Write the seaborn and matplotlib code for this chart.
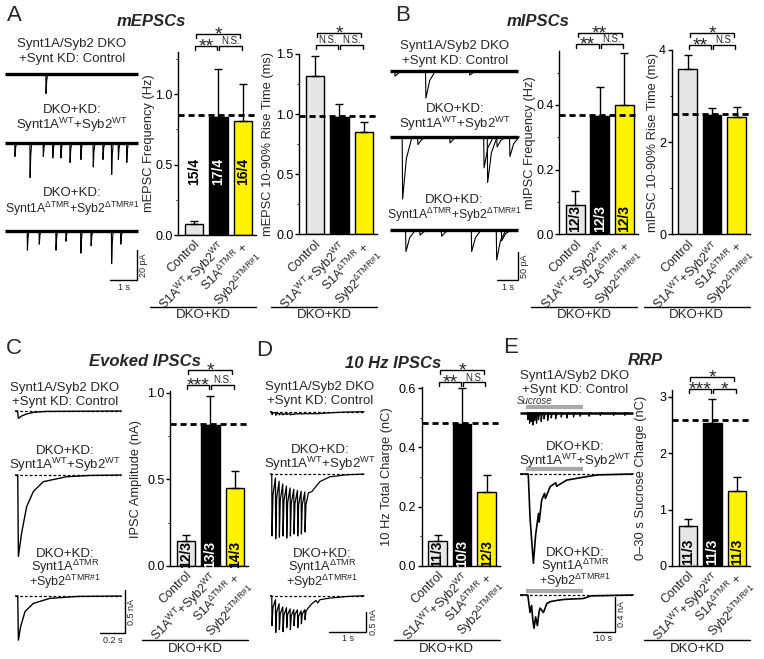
import numpy as np
import pandas as pd
import matplotlib
matplotlib.use("Agg")
import matplotlib.pyplot as plt
from matplotlib.lines import Line2D
import seaborn as sns

# ======================= DATA =======================
groups = ["Control", "WT", "dTMR"]
group_colors = ["#E6E6E6", "#000000", "#FFF200"]
n_colors = ["black", "white", "black"]
xtick_labels = ["Control",
                r"S1A$^{\mathrm{WT}}$+Syb2$^{\mathrm{WT}}$",
                "S1A$^{\\mathrm{ΔTMR}}$ +\nSyb2$^{\\mathrm{ΔTMR\\#1}}$"]

# A: mEPSCs
mepsc_freq = [0.08, 0.84, 0.81]
mepsc_freq_sem = [0.02, 0.34, 0.265]
mepsc_freq_ref = 0.85
mepsc_freq_n = ["15/4", "17/4", "16/4"]
mepsc_freq_sig = ["**", "N.S.", "*"]
mepsc_rise = [1.315, 0.975, 0.853]
mepsc_rise_sem = [0.165, 0.11, 0.083]
mepsc_rise_ref = 0.985
mepsc_rise_sig = ["N.S.", "N.S.", "*"]
# B: mIPSCs
mipsc_freq = [0.092, 0.365, 0.40]
mipsc_freq_sem = [0.043, 0.09, 0.16]
mipsc_freq_ref = 0.37
mipsc_freq_n = ["12/3", "12/3", "12/3"]
mipsc_freq_sig = ["**", "N.S.", "**"]
mipsc_rise = [3.59, 2.58, 2.54]
mipsc_rise_sem = [0.31, 0.16, 0.22]
mipsc_rise_ref = 2.61
mipsc_rise_sig = ["**", "N.S.", "*"]
# C: evoked IPSCs
ipsc_amp = [0.145, 0.815, 0.452]
ipsc_amp_sem = [0.035, 0.167, 0.096]
ipsc_amp_ref = 0.82
ipsc_amp_n = ["12/3", "13/3", "14/3"]
ipsc_amp_sig = ["***", "N.S.", "*"]
# D: 10 Hz IPSCs
train_charge = [0.083, 0.478, 0.248]
train_charge_sem = [0.021, 0.124, 0.06]
train_charge_ref = 0.482
train_charge_n = ["11/3", "10/3", "12/3"]
train_charge_sig = ["**", "N.S.", "*"]
# E: RRP
sucrose_charge = [0.715, 2.54, 1.335]
sucrose_charge_sem = [0.115, 0.42, 0.245]
sucrose_charge_ref = 2.59
sucrose_charge_n = ["11/3", "11/3", "11/3"]
sucrose_charge_sig = ["***", "*", "*"]

# ---- traces (time s, current; events = time / amplitude) ----
A_ctrl_t = [1.52]
A_ctrl_amp = [13]
A_wt_t = [0.37, 0.93, 1.42, 1.77, 2.07, 2.41, 2.81, 3.27, 3.63, 3.95, 4.2, 4.51]
A_wt_amp = [9, 23, 9, 10, 10, 13, 11, 16, 11, 21, 11, 13]
A_tmr_t = [0.83, 1.27, 1.89, 2.26, 2.81, 3.19, 3.95, 4.29]
A_tmr_amp = [13, 9, 13, 7, 15, 10, 22, 9]
A_dur = 4.93

B_ctrl_t = [0.24, 1.71, 3.8]
B_ctrl_amp = [9, 48, 7]
B_wt_t = [0.6, 1.33, 2.86, 4.48, 4.65, 5.1, 5.71]
B_wt_amp = [110, 14, 11, 55, 81, 18, 35]
B_tmr_t = [0.76, 1.43, 2.46, 3.89, 5.08, 5.32]
B_tmr_amp = [38, 9, 11, 38, 53, 19]
B_dur = 6.1

C_ctrl_t = [0, 0.02, 0.027, 0.05, 0.09, 0.15, 0.25, 0.85]
C_ctrl_i = [0, 0, -0.085, -0.06, -0.035, -0.015, -0.005, 0]
C_wt_t = [0, 0.022, 0.027, 0.053, 0.093, 0.147, 0.227, 0.413, 0.6, 0.85]
C_wt_i = [0, 0, -0.94, -0.67, -0.366, -0.19, -0.077, -0.02, -0.005, 0]
C_tmr_t = [0, 0.022, 0.027, 0.045, 0.08, 0.147, 0.28, 0.5, 0.85]
C_tmr_i = [0, 0, -0.51, -0.354, -0.18, -0.085, -0.027, -0.005, 0]

D_pulse_t = [0.05, 0.15, 0.25, 0.35, 0.45, 0.55, 0.65, 0.75, 0.85, 0.95]
D_ctrl_peak = [0.07, 0.09, 0.08, 0.08, 0.07, 0.08, 0.07, 0.06, 0.06, 0.05]
D_ctrl_trough = [0.02, 0.04, 0.05, 0.05, 0.05, 0.06, 0.05, 0.05, 0.05, 0.05]
D_ctrl_tail_t = [1.3, 1.6, 2.0, 2.56]
D_ctrl_tail_i = [0.05, 0.03, 0.01, 0.0]
D_wt_peak = [1.55, 1.62, 1.58, 1.55, 1.6, 1.55, 1.5, 1.55, 1.5, 1.45]
D_wt_trough = [0.1, 0.18, 0.25, 0.3, 0.35, 0.38, 0.41, 0.43, 0.45, 0.47]
D_wt_tail_t = [1.14, 1.36, 1.63, 2.09, 2.56]
D_wt_tail_i = [0.44, 0.19, 0.07, 0.02, 0.0]
D_tmr_peak = [0.75, 0.92, 0.85, 0.9, 0.8, 0.85, 0.75, 0.8, 0.7, 0.6]
D_tmr_trough = [0.1, 0.2, 0.28, 0.3, 0.33, 0.35, 0.35, 0.38, 0.35, 0.3]
D_tmr_tail_t = [1.14, 1.25, 1.3, 1.36, 1.63, 2.09, 2.56]
D_tmr_tail_i = [0.2, 0.12, 0.18, 0.1, 0.06, 0.02, 0.0]

E_sucrose = [2.7, 28.1]
E_dur = 50.7
E_ctrl_t = [3.5, 4.3, 5.0, 5.8, 6.6, 7.4, 8.3, 9.5, 10.8, 12.4, 14.0, 16.0, 18.5,
            21, 24, 27, 31, 36, 42, 47]
E_ctrl_amp = [0.08, 0.12, 0.1, 0.14, 0.09, 0.12, 0.08, 0.1, 0.07, 0.09, 0.06, 0.07,
              0.05, 0.06, 0.05, 0.04, 0.04, 0.03, 0.03, 0.03]
E_wt_t = [0, 3.7, 4.5, 6.0, 7.0, 7.5, 8.3, 8.6, 9.7, 11.0, 11.4, 13.5, 16, 16.4, 20.9,
          29.9, 35, 50.7]
E_wt_i = [0, 0, -0.5, -1.02, -0.7, -0.6, -0.45, -0.55, -0.3, -0.22, -0.28, -0.145,
          -0.1, -0.14, -0.07, -0.03, -0.01, 0]
E_tmr_t = [0, 3.5, 4.5, 5.2, 5.8, 6.3, 7.0, 7.8, 8.5, 9.0, 10.5, 12, 13.5, 17, 20,
           28.4, 32, 50.7]
E_tmr_i = [0, 0, -0.2, -0.12, -0.3, -0.38, -0.25, -0.35, -0.2, -0.15, -0.2, -0.1,
           -0.076, -0.06, -0.05, -0.04, -0.01, 0]

lab_ctrl = ["Synt1A/Syb2 DKO", "+Synt KD: Control"]
lab_wt = ["DKO+KD:", r"Synt1A$^{\mathrm{WT}}$+Syb2$^{\mathrm{WT}}$"]
lab_tmr2 = ["DKO+KD:", r"Synt1A$^{\mathrm{ΔTMR}}$+Syb2$^{\mathrm{ΔTMR\#1}}$"]
lab_tmr3 = ["DKO+KD:", r"Synt1A$^{\mathrm{ΔTMR}}$", r"+Syb2$^{\mathrm{ΔTMR\#1}}$"]

# ======================= STYLE =======================
sns.set_theme(style="ticks")
plt.rcParams["font.family"] = ["Liberation Sans", "DejaVu Sans"]
plt.rcParams["mathtext.fontset"] = "custom"
plt.rcParams["mathtext.rm"] = "Liberation Sans"
plt.rcParams["mathtext.it"] = "Liberation Sans:italic"
plt.rcParams["mathtext.bf"] = "Liberation Sans:bold"
plt.rcParams["axes.linewidth"] = 1.0

W, H = 764, 659
fig = plt.figure(figsize=(W / 100, H / 100), dpi=100)
fig.patch.set_facecolor("white")


def px_axes(l, t, r, b):
    return fig.add_axes([l / W, 1 - b / H, (r - l) / W, (b - t) / H])


def ftext(x, y, s, **kw):
    kw.setdefault("ha", "center")
    kw.setdefault("va", "center")
    fig.text(x / W, 1 - y / H, s, **kw)


def fline(xs, ys, **kw):
    fig.add_artist(Line2D([x / W for x in xs], [1 - y / H for y in ys],
                          color="black", **kw))


UNIT = 24.5
XL = (-0.65, 2.55)


def bar_panel(spine_x, top_px, zero_px, ytop, means, sems, ref, ylabel, ylab_x,
              majors, fmt, minors, ns=None, n_y=None, sig=None, br=None,
              row_y=307):
    axw = (XL[1] - XL[0]) * UNIT
    ax = px_axes(spine_x, top_px, spine_x + axw, zero_px)
    df = pd.DataFrame({"group": groups, "value": means})
    sns.barplot(data=df, x="group", y="value", hue="group", order=groups,
                hue_order=groups, palette=dict(zip(groups, group_colors)),
                width=0.76, edgecolor="black", linewidth=1.0, legend=False,
                ax=ax, errorbar=None, saturation=1)
    ax.errorbar(range(3), means, yerr=[[0, 0, 0], sems], fmt="none",
                ecolor="black", elinewidth=1.0, capsize=2.6, capthick=1.0,
                zorder=4)
    ax.axhline(ref, color="black", lw=2.0, ls=(0, (2.2, 1.4)), zorder=5)
    ax.set_xlim(*XL)
    ax.set_ylim(0, ytop)
    ax.set_xticks([0, 1, 2])
    ax.set_xticklabels(xtick_labels, rotation=45, ha="right",
                       rotation_mode="anchor", fontsize=9,
                       multialignment="center")
    ax.set_yticks(majors)
    ax.set_yticklabels([fmt.format(v) for v in majors], fontsize=9)
    ax.set_yticks(minors, minor=True)
    ax.tick_params(axis="x", length=0, pad=2.5)
    ax.tick_params(axis="y", which="major", length=3, width=1, pad=1.0,
                   direction="out", colors="black")
    ax.tick_params(axis="y", which="minor", length=1.8, width=0.8,
                   direction="out")
    ax.set_xlabel("")
    ax.set_ylabel(ylabel, fontsize=9.3, va="center")
    ax.yaxis.set_label_coords((ylab_x - spine_x) / axw, 0.5)
    sns.despine(ax=ax)
    for sp in ["left", "bottom"]:
        ax.spines[sp].set_linewidth(1.0)
        ax.spines[sp].set_color("black")
    if ns is not None:
        for k in range(3):
            ax.text(k, n_y, ns[k], rotation=90, ha="center", va="center",
                    fontsize=10, fontweight="bold", color=n_colors[k],
                    zorder=6)

    def py(y_px):
        return (zero_px - y_px) / (zero_px - top_px) * ytop

    if sig is not None:
        lo, up = br
        tick = 4.0
        spans = [(0.05, 0.96, lo), (1.04, 1.95, lo), (0.1, 1.9, up)]
        for (xa, xb, yl), s in zip(spans, sig):
            ax.plot([xa, xa, xb, xb], [py(yl + tick), py(yl), py(yl), py(yl + tick)],
                    color="black", lw=1.0, clip_on=False,
                    solid_joinstyle="miter")
            if s == "N.S.":
                ax.text((xa + xb) / 2, py(yl - 1.6), s, ha="center",
                        va="baseline", fontsize=7)
            else:
                ax.text((xa + xb) / 2, py(yl + 5.5), s, ha="center",
                        va="baseline", fontsize=14)
    # DKO+KD bracket below
    fline([spine_x - 28, spine_x + 78], [row_y, row_y], lw=1.0)
    ftext(spine_x + 25, row_y + 8.5, "DKO+KD", fontsize=9.5)
    return ax


# ---------------- bar charts ----------------
bar_panel(178, 52, 235, 1.30, mepsc_freq, mepsc_freq_sem, mepsc_freq_ref,
          "mEPSC Frequency (Hz)", 149, [0, 0.5, 1.0], "{:.1f}",
          [0.25, 0.75, 1.25], mepsc_freq_n, 0.45, mepsc_freq_sig, (46, 34))
bar_panel(299, 54, 234.5, 1.50, mepsc_rise, mepsc_rise_sem, mepsc_rise_ref,
          "mEPSC 10-90% Rise Time (ms)", 268, [0, 0.5, 1.0, 1.5], "{:.1f}",
          [0.25, 0.75, 1.25], None, None, mepsc_rise_sig, (45, 33.3))
bar_panel(559.3, 51, 234.3, 0.567, mipsc_freq, mipsc_freq_sem, mipsc_freq_ref,
          "mIPSC Frequency (Hz)", 529.5, [0, 0.2, 0.4], "{:.1f}",
          [0.1, 0.3, 0.5], mipsc_freq_n, 0.048, mipsc_freq_sig, (44, 32.7))
bar_panel(671.7, 50, 234.3, 4.0, mipsc_rise, mipsc_rise_sem, mipsc_rise_ref,
          "mIPSC 10-90% Rise Time (ms)", 653, [0, 2, 4], "{:d}",
          [1, 3], None, None, mipsc_rise_sig, (45, 33.3))
bar_panel(170, 391, 566, 1.01, ipsc_amp, ipsc_amp_sem, ipsc_amp_ref,
          "IPSC Amplitude (nA)", 136, [0, 0.5, 1.0], "{:.1f}",
          [0.25, 0.75], ipsc_amp_n, 0.068, ipsc_amp_sig, (385, 370), row_y=640)
bar_panel(421.7, 387, 565.7, 0.604, train_charge, train_charge_sem,
          train_charge_ref, "10 Hz Total Charge (nC)", 387, [0, 0.2, 0.4, 0.6],
          "{:.1f}", [0.1, 0.3, 0.5], train_charge_n, 0.04, train_charge_sig,
          (382.3, 370), row_y=640)
bar_panel(672, 390, 566, 3.12, sucrose_charge, sucrose_charge_sem,
          sucrose_charge_ref, "0\u201330 s Sucrose Charge (nC)", 641,
          [0, 1, 2, 3], "{:d}", [], sucrose_charge_n, 0.25, sucrose_charge_sig,
          (389.3, 376.7), row_y=640)


# ---------------- traces ----------------
class TraceAx:
    def __init__(self, x0, x1, y0, y1, s_per_px, a_per_px):
        self.x0, self.y0 = x0, y0
        self.s, self.a = s_per_px, a_per_px
        self.ax = px_axes(x0, y0, x1, y1)
        self.ax.set_xlim(0, (x1 - x0) * s_per_px)
        self.ax.set_ylim(-(y1 - y0) * a_per_px, 0)
        self.ax.axis("off")

    def off(self, yb):
        return -(yb - self.y0) * self.a

    def tx(self, xp):
        return (xp - self.x0) * self.s

    def trace(self, yb, t, i, lw=0.9):
        self.ax.plot(t, self.off(yb) + np.asarray(i, float), color="black",
                     lw=lw, solid_joinstyle="round")

    def baseline(self, yb, t0, t1, lw=2.4):
        self.ax.plot([t0, t1], [self.off(yb)] * 2, color="black", lw=lw,
                     solid_capstyle="butt")

    def dashed(self, yb, t0, t1):
        self.ax.plot([t0, t1], [self.off(yb)] * 2, color="black", lw=0.9,
                     ls=(0, (2.2, 1.6)), zorder=5)

    def events(self, yb, ts, amps, rise, decay, lw=0.8):
        o = self.off(yb)
        for t, a in zip(ts, amps):
            self.ax.plot([t - rise, t, t + decay * 0.4, t + decay],
                         [o, o - a, o - a * 0.35, o], color="black", lw=lw)

    def scalebar(self, xc, yc, tlen, alen, tlab, alab, tlab_dy=7, alab_dx=6.5):
        tc, ac = self.tx(xc), self.off(yc)
        self.ax.plot([tc - tlen, tc, tc], [ac, ac, ac + alen], color="black",
                     lw=1.0, clip_on=False, solid_joinstyle="miter")
        lpx_t = tlen / self.s
        lpx_a = alen / self.a
        ftext(xc - lpx_t / 2, yc + tlab_dy, tlab, fontsize=6.5)
        ftext(xc + alab_dx, yc - lpx_a / 2, alab, fontsize=6.5, rotation=90)


def labels(x, ys, lines, size=9.5, sizes=None):
    for k, (y, s) in enumerate(zip(ys, lines)):
        fs = sizes[k] if sizes else size
        ftext(x, y + 4.4, s, fontsize=fs, va="baseline")


# A traces
tA = TraceAx(5, 150, 30, 300, 1 / 27, 20 / 30)
tA.baseline(74, 0, A_dur)
tA.events(74, A_ctrl_t, A_ctrl_amp, 0.01, 0.06)
tA.baseline(143, 0, A_dur)
tA.events(143, A_wt_t, A_wt_amp, 0.01, 0.06)
tA.baseline(230.7, 0, A_dur)
tA.events(230.7, A_tmr_t, A_tmr_amp, 0.01, 0.06)
tA.scalebar(137.3, 280, 1.0, 20, "1 s", "20 pA")
labels(72, [43, 58], lab_ctrl)
labels(72, [108.5, 125], lab_wt)
labels(72, [192, 208.5], lab_tmr2, sizes=[9.5, 8.8])

# B traces
tB = TraceAx(390, 530, 30, 300, 1 / 21, 50 / 28.3)
tB.baseline(71, 0, B_dur)
tB.events(71, B_ctrl_t, B_ctrl_amp, 0.02, 0.45)
tB.baseline(136.7, 0, B_dur)
tB.events(136.7, B_wt_t, B_wt_amp, 0.02, 0.45)
tB.baseline(230, 0, B_dur)
tB.events(230, B_tmr_t, B_tmr_amp, 0.02, 0.45)
tB.scalebar(518.3, 280, 1.0, 50, "1 s", "50 pA")
labels(455, [45, 59.5], lab_ctrl)
labels(455, [108, 124], lab_wt)
labels(454, [199, 215], lab_tmr2, sizes=[9.5, 8.8])

# C traces
tC = TraceAx(15, 135, 370, 650, 0.2 / 25, 0.5 / 43.3)
for yb, t, i in [(411, C_ctrl_t, C_ctrl_i), (475, C_wt_t, C_wt_i),
                 (596, C_tmr_t, C_tmr_i)]:
    tC.dashed(yb, 0, 0.85)
    tC.trace(yb, t, i, lw=1.0)
tC.scalebar(125, 633.3, 0.2, 0.5, "0.2 s", "0.5 nA")
TMR3_SIZES = [9.5, 9.2, 9.0]
labels(65, [387, 400.5], lab_ctrl)
labels(65, [449.5, 465], lab_wt)
labels(65, [552.5, 566.5, 582], lab_tmr3, sizes=TMR3_SIZES)


# D traces
def train(pulse_t, peaks, troughs, tail_t, tail_i):
    t, i = [0.0, pulse_t[0] - 0.002], [0.0, 0.0]
    for k, tk in enumerate(pulse_t):
        t += [tk + 0.006, tk + 0.03, tk + 0.098]
        i += [-peaks[k], -(troughs[k] + 0.3 * (peaks[k] - troughs[k])), -troughs[k]]
    t += list(tail_t)
    i += [-v for v in tail_i]
    return t, i


tD = TraceAx(270, 380, 370, 650, 1 / 36.7, 0.5 / 20)
for yb, pk, tr, tt, ti in [(411.7, D_ctrl_peak, D_ctrl_trough, D_ctrl_tail_t, D_ctrl_tail_i),
                           (474, D_wt_peak, D_wt_trough, D_wt_tail_t, D_wt_tail_i),
                           (595.7, D_tmr_peak, D_tmr_trough, D_tmr_tail_t, D_tmr_tail_i)]:
    tD.dashed(yb, 0, 2.56)
    t, i = train(D_pulse_t, pk, tr, tt, ti)
    tD.trace(yb, t, i, lw=0.9)
tD.scalebar(366, 631.7, 1.0, 0.5, "1 s", "0.5 nA", alab_dx=8)
labels(320, [386, 399.5], lab_ctrl)
labels(320, [448.5, 464], lab_wt)
labels(322, [552.5, 566.5, 582], lab_tmr3, sizes=TMR3_SIZES)

# E traces
tE = TraceAx(520, 640, 370, 650, 10 / 22.3, 0.4 / 35)
for yb, bar_px in [(412.7, 406.7), (474, 469.3), (595, 591)]:
    tE.ax.plot(E_sucrose, [tE.off(bar_px)] * 2, color="#A8A8A8", lw=3.0,
               solid_capstyle="butt", zorder=1)
tE.baseline(412.7, 0, E_dur, lw=1.8)
tE.events(412.7, E_ctrl_t, E_ctrl_amp, 0.15, 0.8, lw=0.9)
tE.dashed(474, 0, E_dur)
tE.trace(474, E_wt_t, E_wt_i, lw=1.2)
tE.dashed(595, 0, E_dur)
tE.trace(595, E_tmr_t, E_tmr_i, lw=1.2)
tE.scalebar(615, 631.7, 10, 0.4, "10 s", "0.4 nA")
ftext(517, 401, "Sucrose", fontsize=7, style="italic", ha="left",
      color="#333333")
labels(575, [375, 388.5], lab_ctrl)
labels(575, [445.5, 461], lab_wt)
labels(575, [551.5, 565.5, 580.5], lab_tmr3, sizes=TMR3_SIZES)

# ---------------- titles / panel letters ----------------
for x, y, s in [(151.5, 22, "mEPSCs"), (538, 22, "mIPSCs"),
                (145, 362, "Evoked IPSCs"), (393.5, 363, "10 Hz IPSCs"),
                (645, 361, "RRP")]:
    ftext(x, y, s, fontsize=12, fontweight="bold", style="italic")
for x, y, s in [(14, 15.5, "A"), (402.5, 15.5, "B"), (14, 348, "C"),
                (264, 351, "D"), (511, 347.5, "E")]:
    ftext(x, y, s, fontsize=16)

fig.savefig("out.png", dpi=100, facecolor="white")
